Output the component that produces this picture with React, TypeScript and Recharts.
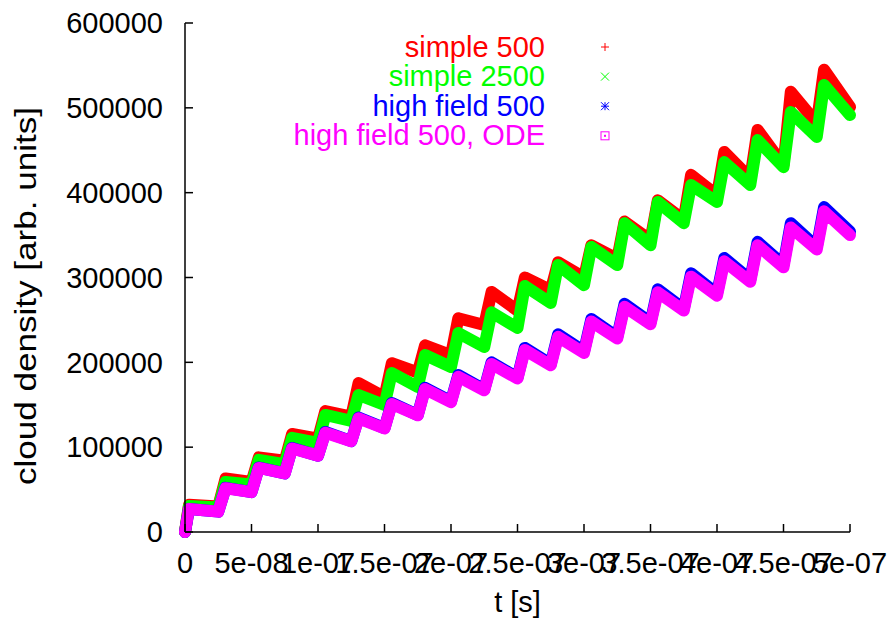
import { LineChart, Line, XAxis, YAxis, Label } from 'recharts'

// time of each vertex in ns: rise start / peak of every tooth, then the end
const T_NS = [
  0, 3, 25, 30.5, 50, 55.5, 75, 80.5, 100, 105.5, 125, 130.5, 150, 155.5, 175, 180.5,
  200, 205.5, 225, 230.5, 250, 255.5, 275, 280.5, 300, 305.5, 325, 330.5, 350, 355.5,
  375, 380.5, 400, 405.5, 425, 430.5, 450, 455.5, 475, 480.5, 500,
]

const SIMPLE_500 = [
  0, 32000, 30000, 63000, 59000, 88000, 84000, 115500, 110000, 142600, 136000, 175600,
  159000, 199000, 188000, 220000, 208500, 252000, 244000, 283000, 261000, 300000,
  285000, 318000, 300000, 338000, 322000, 366000, 344000, 391000, 368000, 421000,
  397000, 448000, 417000, 474000, 432600, 519000, 482000, 545000, 501000,
]

const SIMPLE_2500 = [
  0, 30600, 29000, 59000, 56000, 85000, 80000, 111000, 105000, 138000, 131000, 161500,
  149700, 187400, 171000, 208600, 194500, 234600, 218000, 259000, 240500, 290000,
  270000, 314700, 291000, 336000, 314700, 364000, 338000, 389000, 364000, 409000,
  389000, 436000, 409000, 462000, 430000, 495000, 465600, 527000, 491500,
]

const HIGH_FIELD_500 = [
  0, 27000, 24000, 52000, 47000, 76000, 69000, 99000, 90000, 118000, 107000, 135000,
  122500, 152000, 138000, 170000, 154000, 185000, 168000, 200000, 182000, 217000,
  198000, 233000, 213000, 251000, 230000, 269000, 247000, 286000, 263000, 305000,
  281000, 323000, 297500, 342000, 315000, 364000, 336000, 383000, 354000,
]

const HIGH_FIELD_ODE = [
  0, 27000, 24000, 51500, 47000, 75500, 69000, 98500, 90000, 117000, 107000, 134000,
  122000, 151000, 137500, 168500, 153000, 183000, 167000, 198000, 181000, 214500,
  196500, 230000, 211000, 248000, 228000, 265500, 245000, 282500, 261000, 301000,
  278500, 319000, 295000, 338000, 312000, 359000, 333000, 378000, 350000,
]

const X_TICKS = [0, 50, 100, 150, 200, 250, 300, 350, 400, 450, 500]
const X_TICK_LABELS = ['0', '5e-08', '1e-07', '1.5e-07', '2e-07', '2.5e-07', '3e-07', '3.5e-07', '4e-07', '4.5e-07', '5e-07']
const Y_TICKS = [0, 100000, 200000, 300000, 400000, 500000, 600000]

const SERIES = [
  { key: 's500', name: 'simple 500', color: '#ff0000' },
  { key: 's2500', name: 'simple 2500', color: '#00ff00' },
  { key: 'hf', name: 'high field 500', color: '#0000ff' },
  { key: 'ode', name: 'high field 500, ODE', color: '#ff00ff' },
]

const FONT = '"Liberation Sans", Arial, Helvetica, sans-serif'
const AXIS_LINE = { stroke: '#000', strokeWidth: 1.5 }
const TICK = { fill: '#000', fontSize: 29, fontFamily: FONT }

const rows = T_NS.map((t, i) => ({
  t,
  s500: SIMPLE_500[i],
  s2500: SIMPLE_2500[i],
  hf: HIGH_FIELD_500[i],
  ode: HIGH_FIELD_ODE[i],
}))

// gnuplot point types: +, x, *, boxed dot
function Marker({ i, x, y, color }: { i: number; x: number; y: number; color: string }) {
  const s = 4
  if (i === 0)
    return (
      <g stroke={color} strokeWidth={1}>
        <line x1={x - s} y1={y} x2={x + s} y2={y} />
        <line x1={x} y1={y - s} x2={x} y2={y + s} />
      </g>
    )
  if (i === 1)
    return (
      <g stroke={color} strokeWidth={1}>
        <line x1={x - s} y1={y - s} x2={x + s} y2={y + s} />
        <line x1={x - s} y1={y + s} x2={x + s} y2={y - s} />
      </g>
    )
  if (i === 2)
    return (
      <g stroke={color} strokeWidth={1}>
        <line x1={x - s} y1={y} x2={x + s} y2={y} />
        <line x1={x} y1={y - s} x2={x} y2={y + s} />
        <line x1={x - s} y1={y - s} x2={x + s} y2={y + s} />
        <line x1={x - s} y1={y + s} x2={x + s} y2={y - s} />
      </g>
    )
  return (
    <g stroke={color} strokeWidth={1} fill="none">
      <rect x={x - s} y={y - s} width={2 * s} height={2 * s} />
      <rect x={x - 0.5} y={y - 0.5} width={1} height={1} fill={color} />
    </g>
  )
}

export default function App() {
  return (
    <div style={{ position: 'absolute', left: 0, top: 0, width: 890, height: 626, background: '#fff' }}>
      <LineChart width={890} height={626} data={rows} margin={{ top: 23, right: 40, bottom: 0, left: 100 }}>
        <XAxis
          dataKey="t"
          type="number"
          domain={[0, 500]}
          ticks={X_TICKS}
          interval={0}
          tickFormatter={(v: number) => X_TICK_LABELS[X_TICKS.indexOf(v)] ?? ''}
          height={94}
          tickSize={-8}
          tickMargin={28}
          axisLine={AXIS_LINE}
          tickLine={AXIS_LINE}
          tick={TICK}
        >
          <Label value="t [s]" position="insideBottom" offset={14} fill="#000" fontSize={29} fontFamily={FONT} />
        </XAxis>
        <XAxis
          xAxisId="top"
          orientation="top"
          type="number"
          domain={[0, 500]}
          ticks={X_TICKS}
          interval={0}
          height={0}
          tickSize={-8}
          axisLine={AXIS_LINE}
          tickLine={AXIS_LINE}
          tick={false}
        />
        <YAxis
          type="number"
          domain={[0, 600000]}
          ticks={Y_TICKS}
          interval={0}
          width={85}
          tickSize={-8}
          tickMargin={30}
          axisLine={AXIS_LINE}
          tickLine={AXIS_LINE}
          tick={TICK}
        />
        <YAxis
          yAxisId="right"
          orientation="right"
          type="number"
          domain={[0, 600000]}
          ticks={Y_TICKS}
          interval={0}
          width={0}
          tickSize={-8}
          axisLine={AXIS_LINE}
          tickLine={AXIS_LINE}
          tick={false}
        />
        {SERIES.map((s) => (
          <Line
            key={s.key}
            dataKey={s.key}
            name={s.name}
            stroke={s.color}
            strokeWidth={12}
            strokeLinejoin="round"
            strokeLinecap="round"
            dot={false}
            isAnimationActive={false}
          />
        ))}
      </LineChart>
      <svg width={890} height={626} style={{ position: 'absolute', left: 0, top: 0, pointerEvents: 'none' }}>
        <text
          x={36}
          y={296}
          transform="rotate(-90 36 296)"
          textAnchor="middle"
          fontSize={29}
          fontFamily={FONT}
          fill="#000"
          textLength={378}
          lengthAdjust="spacingAndGlyphs"
        >
          cloud density [arb. units]
        </text>
        {SERIES.map((s, i) => (
          <g key={s.key}>
            <text x={545} y={57 + i * 29.4} textAnchor="end" fontSize={29} fontFamily={FONT} fill={s.color}>
              {s.name}
            </text>
            <Marker i={i} x={605} y={47 + i * 29.6} color={s.color} />
          </g>
        ))}
      </svg>
    </div>
  )
}
